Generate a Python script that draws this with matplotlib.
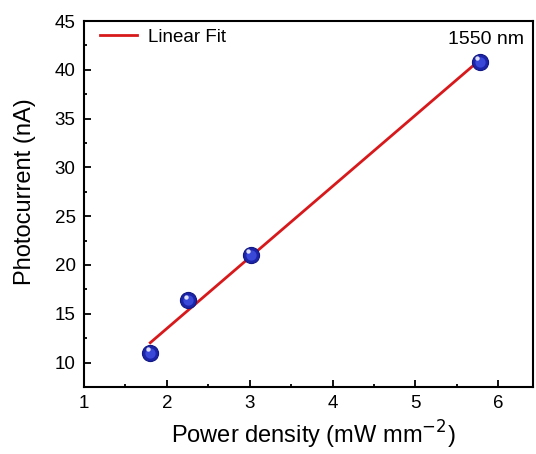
import numpy as np
import matplotlib
matplotlib.use('Agg')
import matplotlib.pyplot as plt
from matplotlib.ticker import MultipleLocator

plt.rcParams['font.family'] = ['Liberation Sans', 'DejaVu Sans']

# measured photocurrent vs. incident power density
power = [1.80, 2.26, 3.01, 5.78]
current = [11.0, 16.4, 21.05, 40.85]

# linear fit of the data
k, b = np.polyfit(power, current, 1)
xfit = np.array([min(power), max(power)])
yfit = k * xfit + b

fig = plt.figure(figsize=(5.36, 4.54), dpi=100)
ax = fig.add_axes([0.1567, 0.1476, 0.8377, 0.8061])

ax.plot(xfit, yfit, color='#d7191c', lw=2, label='Linear Fit', zorder=2)
# spheres: dark body, brighter core, small highlight
ax.scatter(power, current, s=135, color='#1c24a8', edgecolor='#121885', lw=0.8, zorder=3)
ax.scatter(power, current, s=55, color='#3a48d8', lw=0, zorder=4)
ax.scatter(np.array(power) - 0.03, np.array(current) + 0.35, s=10, color='white', lw=0, alpha=0.85, zorder=5)

ax.text(5.85, 43.1, '1550 nm', ha='center', va='center', fontsize=14)

ax.set_xlim(1, 6.42)
ax.set_ylim(7.5, 45)
ax.xaxis.set_major_locator(MultipleLocator(1))
ax.xaxis.set_minor_locator(MultipleLocator(0.5))
ax.yaxis.set_major_locator(MultipleLocator(5))
ax.yaxis.set_minor_locator(MultipleLocator(2.5))
ax.tick_params(which='both', direction='in', top=False, right=False, labelsize=13.5, width=1.3)
ax.tick_params(which='major', length=5, pad=6)
ax.tick_params(which='minor', length=2.5)
for s in ax.spines.values():
    s.set_linewidth(1.5)

ax.set_xlabel('Power density (mW mm$^{-2}$)', fontsize=17)
ax.set_ylabel('Photocurrent (nA)', fontsize=17, va='center')
ax.xaxis.set_label_coords(0.51, -0.088)
ax.yaxis.set_label_coords(-0.131, 0.533)

ax.legend(loc='upper left', bbox_to_anchor=(0.018, 1.0), frameon=False,
          fontsize=13.5, handlelength=2.0, borderaxespad=0, handletextpad=0.6)

fig.savefig('out.png', dpi=100)
